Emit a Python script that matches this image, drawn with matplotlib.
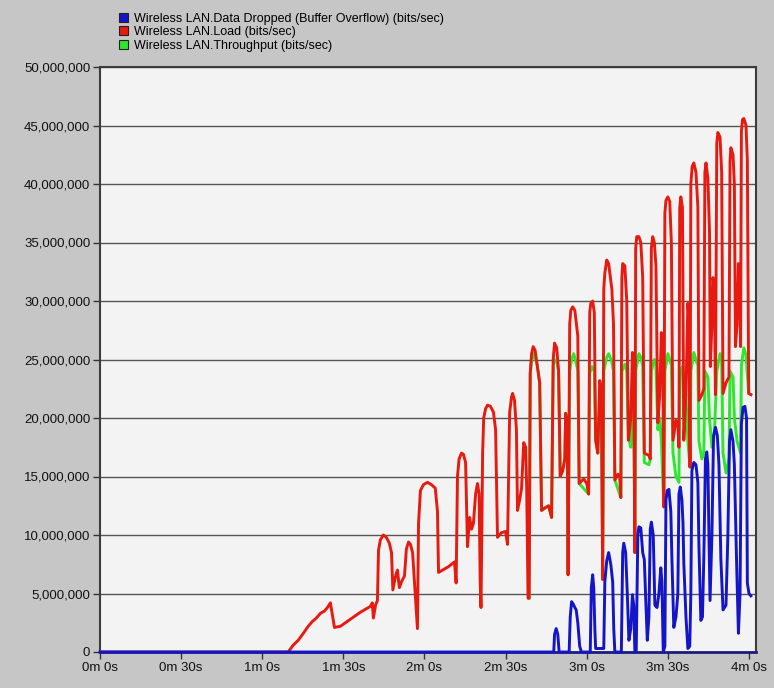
import matplotlib.pyplot as plt
from matplotlib.patches import Patch
from matplotlib.ticker import FuncFormatter, MultipleLocator

# (simulation time s, Mbit/s) samples for the three WLAN statistics
load = [(0, 0), (69.6, 0), (71.5, 0.6), (73.3, 1.0), (75.2, 1.6), (77.0, 2.2), (78.5, 2.6), (80.0, 2.9),
        (81.5, 3.3), (83.0, 3.5), (84.1, 3.8), (85.2, 4.2), (85.9, 3.2), (86.7, 2.1), (88.9, 2.2),
        (92.6, 2.8), (96.3, 3.4), (100.0, 3.9), (100.7, 4.2), (101.1, 2.9), (101.9, 4.0), (102.6, 4.4),
        (103.0, 8.7), (103.7, 9.6), (104.8, 10.0), (105.9, 9.8), (107.0, 9.3), (107.8, 8.5),
        (108.3, 5.3), (109.3, 6.5), (110.0, 7.0), (110.7, 5.5), (111.5, 6.0), (112.6, 6.5),
        (113.3, 8.8), (114.1, 9.4), (114.8, 9.2), (115.6, 8.5), (116.3, 6.0), (117.0, 3.5),
        (117.4, 2.0), (117.8, 11.0), (118.5, 13.8), (119.6, 14.3), (121.1, 14.5), (122.6, 14.3),
        (124.0, 14.0), (124.8, 12.0), (125.2, 6.8), (126.7, 7.0), (128.9, 7.3), (131.1, 7.7),
        (131.7, 5.9), (132.2, 15.0), (132.8, 16.5), (133.7, 17.0), (134.4, 16.9), (135.2, 16.2),
        (135.6, 12.0), (135.9, 9.0), (136.7, 11.5), (137.4, 10.5), (138.1, 11.0), (138.9, 13.5),
        (139.6, 14.4), (140.2, 13.5), (140.6, 6.0), (140.9, 3.8), (141.5, 17.0), (141.9, 20.0),
        (142.6, 20.8), (143.3, 21.1), (144.4, 21.0), (145.5, 20.5), (146.3, 19.0), (147.0, 9.8),
        (148.5, 10.2), (150.0, 10.3), (150.7, 9.2), (151.5, 20.5), (152.2, 21.8), (152.6, 22.1),
        (153.3, 21.5), (154.0, 19.0), (154.4, 12.1), (155.2, 13.0), (155.9, 14.0), (156.7, 17.9),
        (157.4, 17.5), (157.8, 14.0), (158.3, 4.6), (158.7, 4.6), (159.1, 23.8), (159.6, 25.5),
        (160.2, 26.1), (160.9, 25.8), (161.7, 24.5), (162.6, 23.0), (163.3, 12.1), (164.4, 12.3),
        (165.9, 12.5), (167.0, 11.5), (167.6, 25.0), (168.1, 26.4), (168.9, 26.0), (169.6, 24.0),
        (170.2, 15.0), (171.1, 15.5), (171.9, 16.5), (172.2, 20.4), (172.8, 19.5), (173.1, 6.6),
        (173.7, 28.0), (174.1, 29.2), (174.8, 29.5), (175.6, 29.2), (176.7, 27.0), (177.2, 14.4),
        (178.9, 14.8), (180.0, 14.4), (180.7, 13.5), (181.1, 29.0), (181.5, 29.8), (182.2, 30.0),
        (182.8, 29.0), (183.3, 18.1), (184.1, 17.0), (184.8, 23.2), (185.4, 22.5), (185.9, 6.2),
        (186.3, 31.0), (186.7, 32.4), (187.4, 33.5), (188.1, 33.2), (189.3, 31.0), (189.9, 28.0),
        (190.4, 14.7), (191.5, 15.2), (192.2, 15.0), (192.6, 13.2), (193.0, 32.0), (193.3, 33.2),
        (194.1, 33.0), (194.8, 30.0), (195.4, 18.1), (196.3, 20.0), (196.9, 25.6), (197.4, 24.0),
        (197.8, 8.5), (198.1, 34.5), (198.5, 35.5), (199.3, 35.5), (200.0, 35.0), (200.7, 32.0),
        (201.3, 17.0), (203.0, 16.8), (203.5, 16.5), (203.9, 34.5), (204.4, 35.5), (205.0, 35.0),
        (205.6, 33.0), (206.3, 19.6), (207.0, 22.0), (207.6, 27.3), (208.1, 26.0), (208.5, 12.4),
        (208.9, 37.5), (209.3, 38.6), (210.0, 38.9), (210.7, 38.5), (211.3, 35.0), (211.9, 18.1),
        (213.0, 19.8), (213.7, 19.5), (214.1, 17.5), (214.4, 38.0), (214.8, 38.9), (215.4, 38.0),
        (215.9, 18.1), (216.7, 22.0), (217.4, 29.8), (217.8, 28.5), (218.2, 15.8), (218.5, 40.0),
        (219.0, 41.5), (219.6, 41.8), (220.4, 41.0), (221.1, 38.0), (221.5, 21.5), (222.6, 22.0),
        (223.3, 22.5), (223.7, 41.0), (224.1, 41.8), (224.8, 40.5), (225.4, 36.0), (225.7, 24.4),
        (226.3, 28.0), (226.7, 32.0), (227.2, 31.0), (227.6, 22.0), (228.1, 43.5), (228.5, 44.4),
        (229.3, 44.0), (229.9, 41.0), (230.4, 22.1), (231.5, 23.0), (232.6, 23.5), (233.0, 42.0),
        (233.3, 43.1), (234.1, 42.5), (234.6, 40.0), (235.0, 26.1), (235.6, 28.0), (236.1, 33.2),
        (236.5, 32.0), (236.9, 26.1), (237.2, 44.5), (237.6, 45.5), (238.1, 45.6), (238.9, 45.0),
        (239.4, 42.0), (239.9, 22.1), (240.7, 22.0)]

throughput = [(158.7, 4.6), (159.1, 23.8), (159.6, 24.8), (160.2, 25.5), (161.1, 25.0), (161.7, 24.5),
              (162.6, 23.0), (163.3, 12.1), (165.9, 12.5), (167.0, 11.5), (167.6, 24.5), (168.1, 25.0),
              (168.9, 24.8), (169.6, 24.0), (170.2, 15.0), (171.1, 15.5), (171.9, 16.5), (172.2, 20.4),
              (172.8, 19.5), (173.1, 6.6), (173.7, 24.0), (174.4, 25.0), (175.2, 25.5), (176.3, 24.5),
              (176.7, 24.0), (177.2, 14.4), (180.7, 13.5), (181.1, 23.8), (181.9, 24.4), (182.8, 24.0),
              (183.3, 18.1), (184.1, 17.0), (184.8, 22.0), (185.4, 21.5), (185.9, 6.2), (186.3, 24.0),
              (187.4, 25.2), (188.1, 25.5), (189.3, 24.8), (189.9, 24.0), (190.4, 14.7), (192.6, 13.2),
              (193.0, 24.0), (194.1, 24.6), (194.8, 24.0), (195.4, 18.4), (196.3, 17.5), (196.9, 21.0),
              (197.4, 20.0), (197.8, 8.5), (198.1, 24.0), (199.3, 25.5), (200.0, 25.2), (200.7, 24.5),
              (201.3, 16.2), (203.0, 16.0), (203.5, 16.5), (203.9, 24.0), (205.0, 25.0), (205.6, 24.5),
              (206.3, 19.0), (207.0, 20.0), (207.6, 18.0), (208.5, 12.4), (208.9, 24.0), (210.0, 25.5),
              (210.7, 25.0), (211.3, 24.5), (211.9, 17.0), (213.0, 15.0), (214.1, 14.5), (214.4, 24.0),
              (215.4, 24.4), (215.9, 20.0), (216.7, 22.0), (217.4, 18.0), (218.2, 15.8), (218.5, 24.0),
              (219.6, 25.6), (220.4, 25.0), (221.1, 24.5), (221.5, 18.0), (222.6, 16.5), (223.3, 17.0),
              (223.7, 24.0), (224.8, 23.5), (225.4, 20.0), (226.3, 17.5), (227.2, 18.5), (228.1, 24.0),
              (229.3, 25.5), (229.9, 25.0), (230.4, 17.0), (231.5, 15.3), (232.6, 16.5), (233.0, 24.0),
              (234.1, 23.5), (234.6, 20.0), (235.6, 18.0), (236.9, 17.0), (237.2, 24.5), (238.1, 26.0),
              (238.9, 25.4), (239.9, 22.1), (240.7, 22.0)]

dropped = [(0, 0), (167.8, 0), (168.1, 1.5), (168.7, 2.0), (169.3, 1.5), (169.8, 0), (173.5, 0),
           (173.9, 3.0), (174.4, 4.3), (175.0, 4.1), (175.6, 3.8), (176.1, 3.6), (176.7, 2.5),
           (177.4, 0.5), (178.0, 0), (181.3, 0), (181.7, 5.5), (182.2, 6.6), (182.6, 5.5), (183.0, 2.0),
           (183.3, 0.3), (186.3, 0.3), (186.7, 6.0), (187.4, 7.8), (188.1, 8.5), (188.9, 7.5),
           (189.6, 6.0), (190.0, 2.0), (190.4, 0), (192.8, 0), (193.3, 8.5), (193.7, 9.3), (194.4, 8.5),
           (195.0, 5.0), (195.6, 1.0), (196.3, 2.0), (196.9, 4.9), (197.4, 4.0), (197.8, 0),
           (198.3, 0), (198.9, 10.0), (199.3, 10.7), (200.0, 10.6), (200.7, 8.5), (201.3, 7.9),
           (201.9, 4.0), (202.4, 1.0), (203.0, 3.0), (203.5, 10.5), (203.9, 11.1), (204.6, 10.0),
           (205.2, 4.0), (206.0, 3.8), (206.7, 5.0), (207.4, 7.2), (207.8, 6.0), (208.3, 0),
           (208.9, 0.5), (209.3, 13.0), (209.8, 13.8), (210.4, 13.9), (211.1, 12.0), (211.5, 8.0),
           (212.2, 2.1), (213.0, 3.0), (213.7, 5.0), (214.1, 13.5), (214.6, 14.1), (215.2, 13.0),
           (215.6, 11.0), (215.9, 7.6), (216.7, 3.0), (217.4, 0.3), (218.1, 0.5), (218.5, 5.0),
           (218.9, 15.5), (219.6, 16.2), (220.4, 16.0), (221.1, 14.5), (221.5, 9.0), (222.2, 2.7),
           (222.8, 3.0), (223.3, 8.0), (223.9, 16.5), (224.4, 17.1), (224.8, 16.0), (225.2, 10.0),
           (225.6, 4.4), (226.3, 10.0), (226.9, 18.5), (227.6, 19.2), (228.3, 18.5), (228.9, 16.0),
           (229.6, 8.0), (230.4, 3.6), (231.5, 4.0), (232.2, 10.0), (232.8, 18.0), (233.3, 19.0),
           (234.1, 18.0), (234.6, 16.0), (235.4, 7.9), (236.1, 1.6), (236.7, 5.0), (237.2, 19.5),
           (237.8, 20.9), (238.5, 21.0), (239.1, 20.0), (239.4, 5.9), (240.0, 5.0), (240.7, 4.8)]

labels = ['Wireless LAN.Data Dropped (Buffer Overflow) (bits/sec)',
          'Wireless LAN.Load (bits/sec)',
          'Wireless LAN.Throughput (bits/sec)']
colors = ['#1414c8', '#e81a10', '#2ee62e']

plt.rcParams['font.family'] = ['Liberation Sans', 'DejaVu Sans']

fig = plt.figure(figsize=(7.74, 6.88), dpi=100, facecolor='#c6c6c6')
ax = fig.add_axes([100 / 774, 1 - 652 / 688, 656 / 774, 585 / 688])
ax.set_facecolor('#f3f3f3')


def draw(series, color, z, **kw):
    t, v = zip(*series)
    ax.plot(t, [x * 1e6 for x in v], color=color, lw=2.1, zorder=z,
            solid_joinstyle='round', **kw)


draw(throughput, colors[2], 3)
draw(load, colors[1], 4)
draw(dropped, colors[0], 5, clip_on=False)

ax.set_xlim(0, 242.6)
ax.set_ylim(0, 50e6)
ax.yaxis.set_major_locator(MultipleLocator(5e6))
ax.xaxis.set_major_locator(MultipleLocator(30))
ax.yaxis.set_major_formatter(FuncFormatter(lambda v, p: f'{int(v):,}'))
ax.xaxis.set_major_formatter(FuncFormatter(lambda t, p: f'{int(t) // 60}m {int(t) % 60}s'))
ax.grid(axis='y', color='#555555', lw=1.0)
ax.set_axisbelow(True)
ax.tick_params(direction='out', length=5, width=1, color='#333333', labelsize=9.5,
               labelcolor='#111111', pad=2)

for side in ['left', 'top', 'right']:
    ax.spines[side].set_color('#3c3c3c')
    ax.spines[side].set_linewidth(1.5)
ax.spines['bottom'].set_color('#1c1c80')
ax.spines['bottom'].set_linewidth(2)

handles = [Patch(facecolor=c, edgecolor='#222222', lw=0.8) for c in colors]
fig.legend(handles, labels, loc='upper left', bbox_to_anchor=(110 / 774, 1 - 4 / 688),
           frameon=False, fontsize=9, handlelength=0.75, handleheight=0.75,
           handletextpad=0.5, labelspacing=0.12, borderpad=0.2)

fig.savefig('out.png', dpi=100, facecolor=fig.get_facecolor())
